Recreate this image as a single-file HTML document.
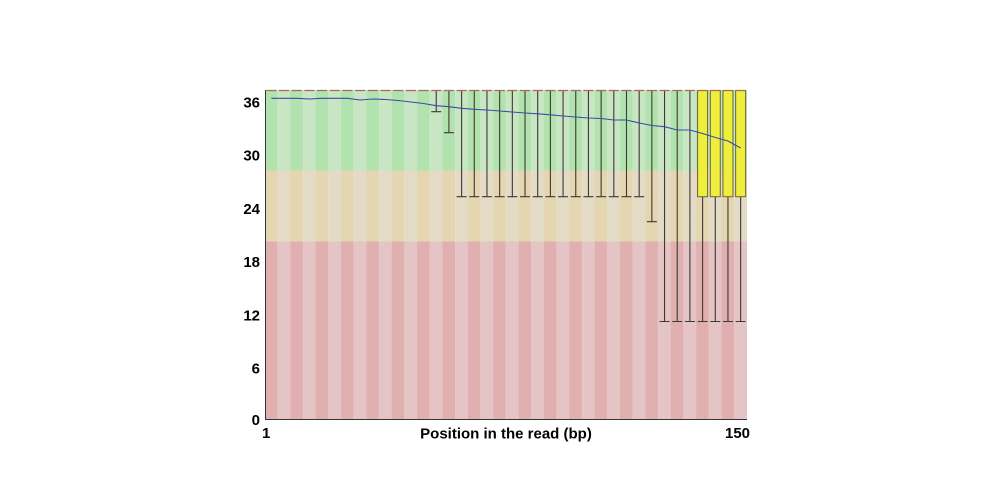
<!DOCTYPE html>
<html>
<head>
<meta charset="utf-8">
<style>
  html,body{margin:0;padding:0;background:#fff;}
  svg{display:block;}
  text{font-family:"Liberation Sans",Arial,sans-serif;font-weight:bold;font-size:15px;fill:#000;}
</style>
</head>
<body>
<svg width="1000" height="500" viewBox="0 0 1000 500" xmlns="http://www.w3.org/2000/svg">
  <defs>
    <pattern id="pg" patternUnits="userSpaceOnUse" x="265" y="0" width="25.368" height="500">
      <rect x="0" y="0" width="12.684" height="500" fill="#b2e3ae"/>
      <rect x="12.684" y="0" width="12.684" height="500" fill="#c8e6c4"/>
    </pattern>
    <pattern id="po" patternUnits="userSpaceOnUse" x="265" y="0" width="25.368" height="500">
      <rect x="0" y="0" width="12.684" height="500" fill="#e4d6b0"/>
      <rect x="12.684" y="0" width="12.684" height="500" fill="#e3dbc6"/>
    </pattern>
    <pattern id="pr" patternUnits="userSpaceOnUse" x="265" y="0" width="25.368" height="500">
      <rect x="0" y="0" width="12.684" height="500" fill="#e0b0b0"/>
      <rect x="12.684" y="0" width="12.684" height="500" fill="#e4c4c4"/>
    </pattern>
  </defs>

  <rect x="0" y="0" width="1000" height="500" fill="#ffffff"/>

  <!-- background zones -->
  <rect x="265" y="90" width="482" height="80.5" fill="url(#pg)"/>
  <rect x="265" y="170.5" width="482" height="71" fill="url(#po)"/>
  <rect x="265" y="241.5" width="482" height="177.5" fill="url(#pr)"/>

  <!-- whiskers -->
  <path fill="none" stroke="#3e3a32" stroke-width="1.1" d="
    M436.23 90 V111.7 M431.23 111.7 H441.23
    M448.92 90 V132.7 M443.92 132.7 H453.92
    M461.60 90 V196.7 M456.60 196.7 H466.60
    M474.28 90 V196.7 M469.28 196.7 H479.28
    M486.97 90 V196.7 M481.97 196.7 H491.97
    M499.65 90 V196.7 M494.65 196.7 H504.65
    M512.34 90 V196.7 M507.34 196.7 H517.34
    M525.02 90 V196.7 M520.02 196.7 H530.02
    M537.70 90 V196.7 M532.70 196.7 H542.70
    M550.39 90 V196.7 M545.39 196.7 H555.39
    M563.07 90 V196.7 M558.07 196.7 H568.07
    M575.76 90 V196.7 M570.76 196.7 H580.76
    M588.44 90 V196.7 M583.44 196.7 H593.44
    M601.12 90 V196.7 M596.12 196.7 H606.12
    M613.81 90 V196.7 M608.81 196.7 H618.81
    M626.49 90 V196.7 M621.49 196.7 H631.49
    M639.18 90 V196.7 M634.18 196.7 H644.18
    M651.86 90 V221.7 M646.86 221.7 H656.86
    M664.54 90 V321.5 M659.54 321.5 H669.54
    M677.23 90 V321.5 M672.23 321.5 H682.23
    M689.91 90 V321.5 M684.91 321.5 H694.91
    M702.60 196.7 V321.5 M697.60 321.5 H707.60
    M715.28 196.7 V321.5 M710.28 321.5 H720.28
    M727.96 196.7 V321.5 M722.96 321.5 H732.96
    M740.65 196.7 V321.5 M735.65 321.5 H745.65
  "/>

  <!-- boxes -->
  <g fill="#f0ee3c" stroke="#6a6438" stroke-width="1">
    <rect x="697.6" y="90.5" width="10" height="106.2"/>
    <rect x="710.28" y="90.5" width="10" height="106.2"/>
    <rect x="722.96" y="90.5" width="10" height="106.2"/>
    <rect x="735.65" y="90.5" width="10" height="106.2"/>
  </g>

  <!-- top caps / medians -->
  <line x1="266.34" y1="90.5" x2="747" y2="90.5" stroke="#a86a58" stroke-width="1.3" stroke-dasharray="10 2.684"/>

  <!-- mean line -->
  <polyline fill="none" stroke="#3a4ca8" stroke-width="1.1" points="
    271.34,98.3 284.03,98.3 296.71,98.3 309.39,99 322.08,98.3 334.76,98.3 347.45,98.3 360.13,100
    372.81,99 385.50,99.5 398.18,100.5 410.87,102 423.55,103.5 436.23,105.7 448.92,106.7 461.60,108.3
    474.28,109.3 486.97,110 499.65,111 512.34,112 525.02,113 537.70,113.8 550.39,114.8 563.07,116
    575.76,117 588.44,118 601.12,118.5 613.81,120 626.49,120 639.18,123 651.86,125.5 664.54,126.7
    677.23,130 689.91,130 702.60,133.5 715.28,137.5 727.96,141 740.65,148"/>

  <!-- axes -->
  <line x1="265.5" y1="90" x2="265.5" y2="419.5" stroke="#333" stroke-width="1"/>
  <line x1="265" y1="419.5" x2="747" y2="419.5" stroke="#333" stroke-width="1"/>

  <!-- y tick labels -->
  <g text-anchor="end">
    <text x="260" y="107.5">36</text>
    <text x="260" y="160.7">30</text>
    <text x="260" y="214">24</text>
    <text x="260" y="267.2">18</text>
    <text x="260" y="320.5">12</text>
    <text x="260" y="373.7">6</text>
    <text x="260" y="425">0</text>
  </g>

  <!-- x labels -->
  <text x="262" y="438">1</text>
  <text x="725" y="438">150</text>
  <text x="506" y="438.5" text-anchor="middle">Position in the read (bp)</text>
</svg>
</body>
</html>
